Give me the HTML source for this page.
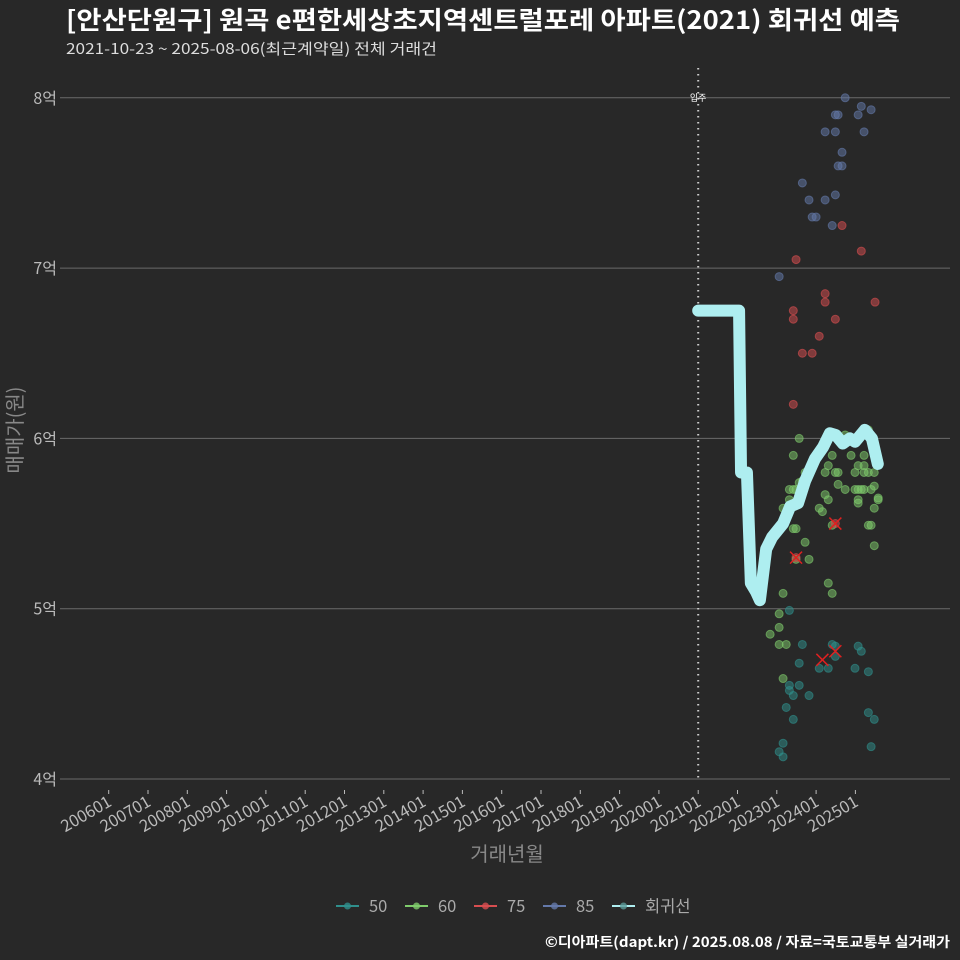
<!DOCTYPE html>
<html><head><meta charset="utf-8">
<style>
body{margin:0;background:#282828;}
svg{display:block;font-family:"Liberation Sans","Noto Sans CJK KR",sans-serif;}
</style></head>
<body>
<svg id="chart" width="960" height="960" viewBox="0 0 960 960">
<rect width="960" height="960" fill="#282828"/>
<text x="66" y="29" fill="#ffffff" font-size="25" font-weight="bold" textLength="834" lengthAdjust="spacingAndGlyphs" font-family="'Noto Sans CJK KR',sans-serif">[안산단원구] 원곡 e편한세상초지역센트럴포레 아파트(2021) 회귀선 예측</text>
<text x="66" y="54" fill="#dddddd" font-size="15" textLength="371" lengthAdjust="spacingAndGlyphs" font-family="'Noto Sans CJK KR',sans-serif">2021-10-23 ~ 2025-08-06(최근계약일) 전체 거래건</text>
<g id="grid"></g>
<g id="axes"></g>
<g id="marks"></g>
<text transform="translate(22,430) rotate(-90)" text-anchor="middle" fill="#888888" font-size="20" font-family="'Noto Sans CJK KR',sans-serif">매매가(원)</text>
<text x="507" y="861" text-anchor="middle" fill="#888888" font-size="20" font-family="'Noto Sans CJK KR',sans-serif">거래년월</text>
<g id="legend"></g>
<text x="950" y="947" text-anchor="end" fill="#ffffff" font-size="14" font-weight="bold" textLength="405" lengthAdjust="spacingAndGlyphs" font-family="'Noto Sans CJK KR',sans-serif">©디아파트(dapt.kr) / 2025.08.08 / 자료=국토교통부 실거래가</text>
</svg>
<script>
const yTicks=[4,5,6,7,8];
const xTickYears=[2006,2007,2008,2009,2010,2011,2012,2013,2014,2015,2016,2017,2018,2019,2020,2021,2022,2023,2024,2025];
const moveInYear=2021.0;
const regT=[2021.0,2022.04,2022.09,2022.24,2022.34,2022.47,2022.57,2022.73,2022.88,2023.16,2023.34,2023.54,2023.72,2023.97,2024.18,2024.35,2024.50,2024.68,2024.86,2024.99,2025.24,2025.42,2025.57];
const regV=[6.75,6.75,5.8,5.8,5.15,5.1,5.05,5.35,5.42,5.5,5.6,5.62,5.75,5.88,5.95,6.03,6.02,5.97,6.0,5.98,6.05,6.0,5.85];
const s85T=[2024.74,2025.15,2025.40,2024.49,2024.56,2025.07,2024.23,2024.49,2025.22,2024.66,2024.56,2024.66,2023.65,2023.82,2024.23,2024.49,2023.90,2024.00,2024.41,2023.06];
const s85V=[8.0,7.95,7.93,7.9,7.9,7.9,7.8,7.8,7.8,7.68,7.6,7.6,7.5,7.4,7.4,7.43,7.3,7.3,7.25,6.95];
const s75T=[2024.66,2025.15,2023.49,2024.23,2024.23,2025.50,2023.42,2023.42,2024.49,2024.08,2023.65,2023.90,2023.42,2023.49,2024.49];
const s75V=[7.25,7.1,7.05,6.85,6.8,6.8,6.75,6.7,6.7,6.6,6.5,6.5,6.2,5.3,5.5];
const s60T=[2023.57,2023.42,2023.72,2023.57,2023.65,2023.32,2023.42,2023.49,2023.32,2023.16,2023.49,2023.49,2023.42,2023.72,2023.49,2023.82,2023.16,2023.06,2023.06,2022.83,2023.06,2023.24,2023.16,2024.41,2024.31,2024.23,2024.49,2024.56,2024.89,2025.22,2025.07,2025.22,2024.99,2025.22,2025.33,2025.48,2024.56,2024.74,2024.99,2025.07,2025.15,2025.22,2025.40,2025.48,2025.58,2024.23,2024.31,2025.07,2025.07,2025.58,2024.08,2024.16,2025.48,2024.41,2025.33,2025.40,2025.48,2024.31,2024.41,2024.74,2024.89,2025.33];
const s60V=[6.0,5.9,5.8,5.74,5.75,5.7,5.7,5.7,5.64,5.59,5.63,5.47,5.47,5.39,5.29,5.29,5.09,4.97,4.89,4.85,4.79,4.79,4.59,5.9,5.84,5.8,5.8,5.8,5.9,5.9,5.84,5.84,5.8,5.8,5.8,5.8,5.73,5.7,5.7,5.7,5.7,5.7,5.7,5.72,5.65,5.67,5.64,5.64,5.62,5.64,5.59,5.57,5.59,5.49,5.49,5.49,5.37,5.15,5.09,6.02,6.0,6.05];
const s50T=[2023.32,2023.65,2023.57,2023.32,2023.32,2023.57,2023.42,2023.82,2023.24,2023.42,2023.16,2023.06,2023.16,2024.41,2024.49,2024.49,2024.08,2024.31,2025.07,2025.15,2024.99,2025.33,2025.33,2025.48,2025.40];
const s50V=[4.99,4.79,4.68,4.55,4.52,4.55,4.49,4.49,4.42,4.35,4.21,4.16,4.13,4.79,4.78,4.72,4.65,4.65,4.78,4.75,4.65,4.63,4.39,4.35,4.19];
const crossT=[2023.49,2024.49,2024.16,2024.49];
const crossV=[5.3,5.5,4.7,4.75];

const NS="http://www.w3.org/2000/svg";
function xs(t){return 108.7+(t-2006)*39.3;}
function ys(v){return 779-(v-4)*170.3;}
function mk(tag,attrs,parent){const e=document.createElementNS(NS,tag);for(const k in attrs)e.setAttribute(k,attrs[k]);parent.appendChild(e);return e;}
const grid=document.getElementById('grid'),axes=document.getElementById('axes'),marks=document.getElementById('marks'),legend=document.getElementById('legend');
yTicks.forEach(v=>{
  const l=mk('line',{x1:60,x2:950,y1:ys(v),y2:ys(v),stroke:'#6a6a6a','stroke-width':1},grid);
  
  
  const t=mk('text',{x:57,y:ys(v)+6,'text-anchor':'end',fill:'#bbbbbb','font-size':16,'font-family':"'Noto Sans CJK KR',sans-serif"},axes);
  t.textContent=v+'억';
  
  
});
xTickYears.forEach(y=>{
  const x=xs(y);
  const tk=mk('line',{x1:x,x2:x,y1:790,y2:794,stroke:'#bbbbbb','stroke-width':1},axes);
  
  
  const t=mk('text',{transform:`translate(${x+4},${805}) rotate(-30)`,'text-anchor':'end',fill:'#bbbbbb','font-size':16.5,'font-family':"'Noto Sans CJK KR',sans-serif"},axes);
  t.textContent=y+'01';
  
  
});
const mv=mk('line',{x1:xs(moveInYear),x2:xs(moveInYear),y1:68,y2:782,stroke:'#cccccc','stroke-width':2,'stroke-dasharray':'1.5 4.5'},grid);


const mvt=mk('text',{x:xs(moveInYear),y:101,'text-anchor':'middle',fill:'#ffffff','font-size':9,'font-family':"'Noto Sans CJK KR',sans-serif"},grid);
mvt.textContent='입주';



function dots(T,V,color,name){
  T.forEach((t,i)=>{
    const c=mk('circle',{cx:xs(t),cy:ys(V[i]),r:4,fill:color,'fill-opacity':0.5,stroke:color,'stroke-opacity':0.6,'stroke-width':1},marks);
    
    
  });
}
dots(s50T,s50V,'#2f8f8c','point-50');
dots(s60T,s60V,'#7fcc6c','point-60');
dots(s75T,s75V,'#d84e50','point-75');
dots(s85T,s85V,'#6479aa','point-85');
crossT.forEach((t,i)=>{
  const x=xs(t),y=ys(crossV[i]);
  const p=mk('path',{d:`M${x-6},${y-6}L${x+6},${y+6}M${x-6},${y+6}L${x+6},${y-6}`,stroke:'#e02020','stroke-width':1.5,fill:'none'},marks);
  
  
});
const reg=mk('polyline',{points:regT.map((t,i)=>xs(t)+','+ys(regV[i])).join(' '),fill:'none',stroke:'#aeeef0','stroke-width':12,'stroke-linejoin':'round','stroke-linecap':'round'},marks);



const legNames=['50','60','75','85','회귀선'];
const legColors=['#2f8f8c','#7fcc6c','#d84e50','#6479aa','#aeeef0'];
const legX=[336,405,474,543,612];
legNames.forEach((n,i)=>{
  const g=mk('g',{},legend);
  
  
  mk('line',{x1:legX[i],x2:legX[i]+23,y1:906,y2:906,stroke:legColors[i],'stroke-width':2},g);
  mk('circle',{cx:legX[i]+11.5,cy:906,r:3.5,fill:i==4?'#5a9a98':legColors[i],'fill-opacity':0.8},g);
  const t=mk('text',{x:legX[i]+33,y:912,fill:'#aaaaaa','font-size':16.5,'font-family':"'Noto Sans CJK KR',sans-serif"},g);
  t.textContent=n;
});
</script>
</body></html>
